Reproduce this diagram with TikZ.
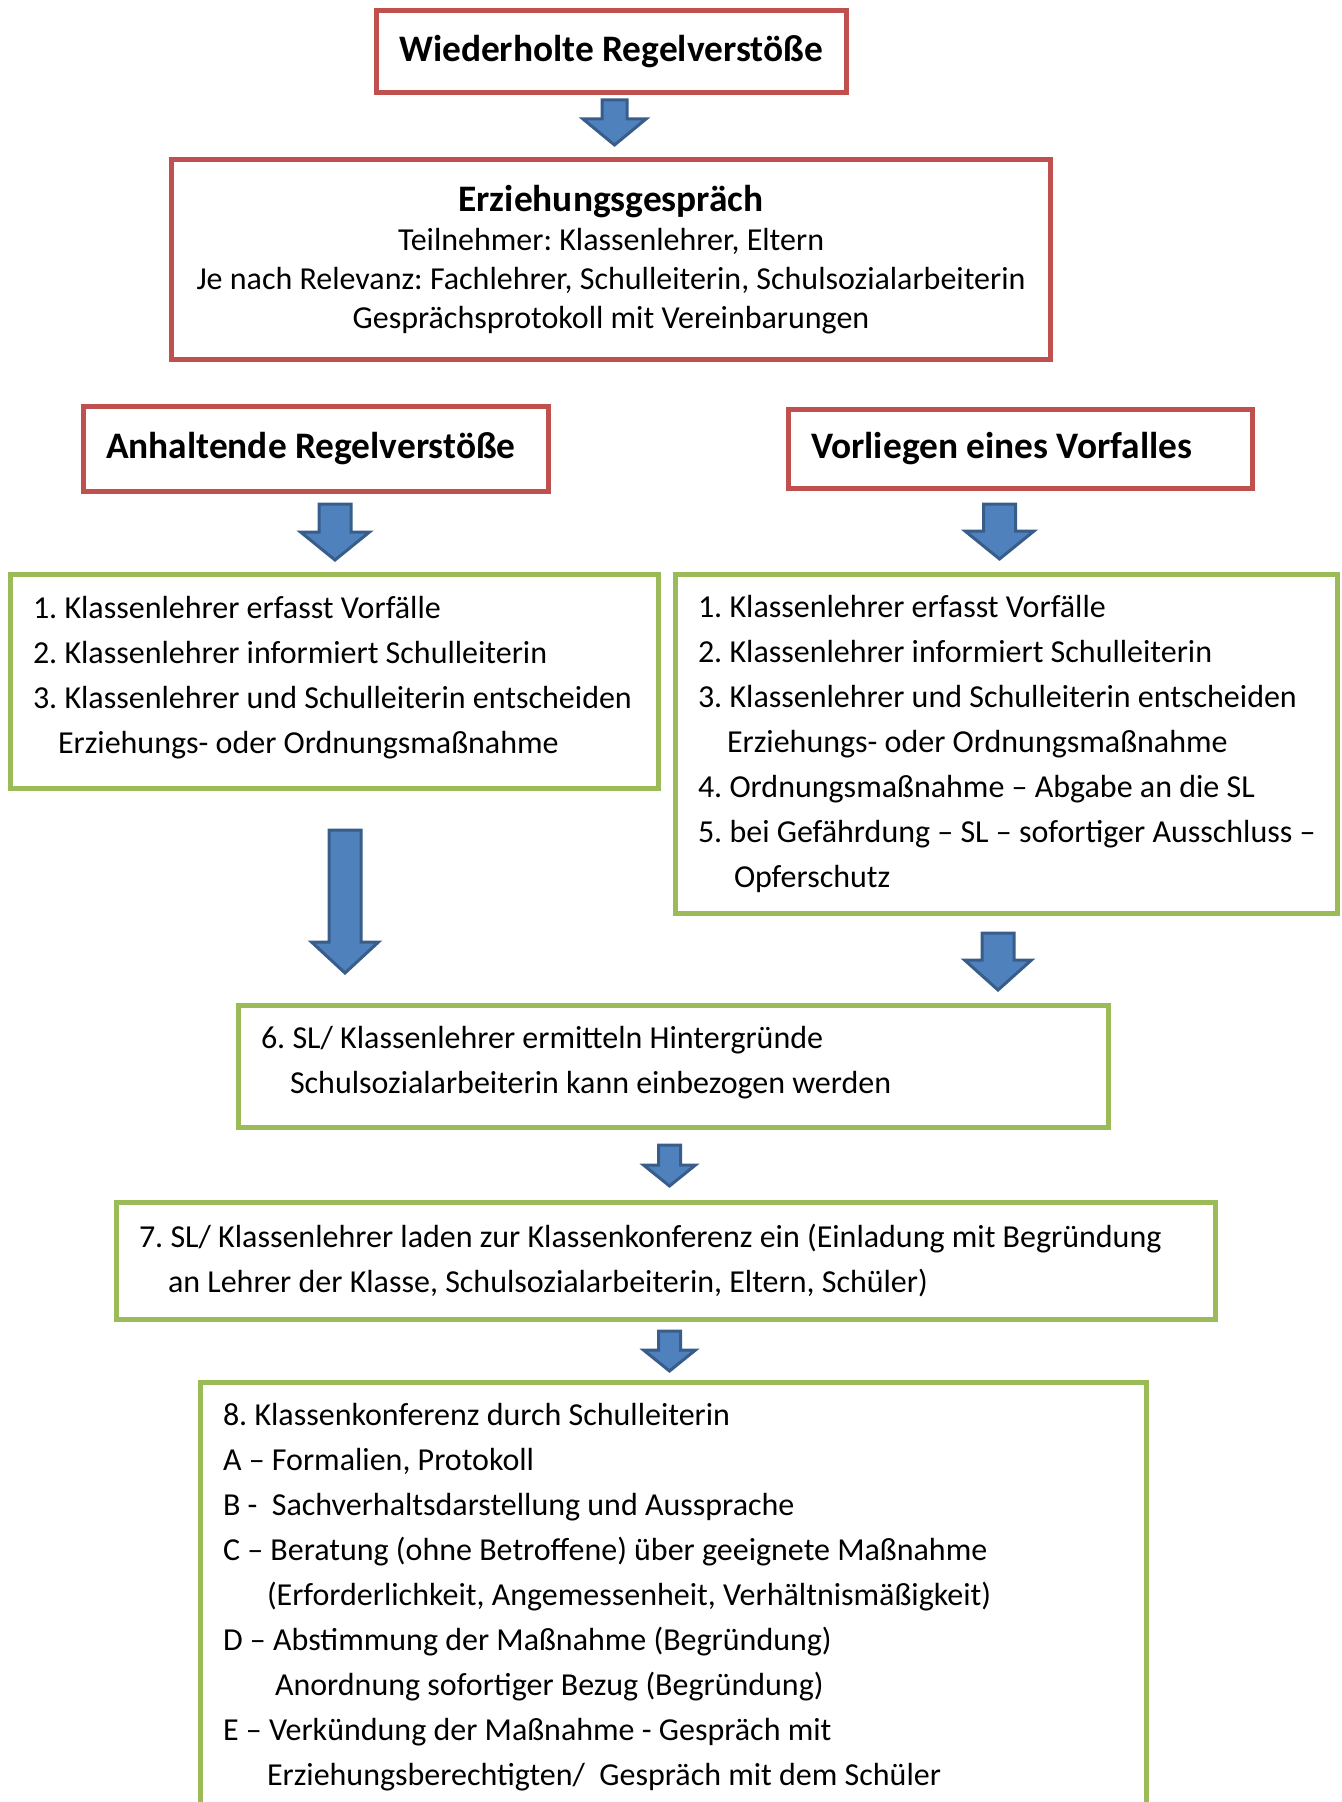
\documentclass[tikz,border=0pt]{standalone}
\usepackage{fontspec}
\setmainfont{Carlito}
\usetikzlibrary{positioning, calc}
\definecolor{boxred}{HTML}{C0504D}
\definecolor{boxgreen}{HTML}{9BBB59}
\definecolor{arrowfill}{HTML}{4F81BD}
\definecolor{arrowline}{HTML}{385D8A}
\newcommand{\bodyfont}{\fontsize{16}{22.5}\selectfont}
\newcommand{\titlefont}{\fontsize{18.7}{22}\selectfont\bfseries}
\newcommand{\lowstrut}{\rule[-6.5pt]{0pt}{0pt}}
\frenchspacing

\begin{document}
\begin{tikzpicture}[
x=0.5pt, y=-0.5pt,
redbox/.style={draw=boxred,
line width=2.5pt,
outer sep=0pt,
align=center,
font=\titlefont},
greenbox/.style={draw=boxgreen,
line width=2.5pt,
outer sep=0pt,
align=flush left,
inner xsep=11.5pt,
font=\bodyfont},
blockarr/.style n args={3}{draw=arrowline, fill=arrowfill, line width=1.5pt,
to path={($(\tikztostart -| \tikztotarget)+(-#1,0)$) -- ($(\tikztostart -| \tikztotarget)+(#1,0)$)
-- ($(\tikztotarget)+(#1,-#3)$) -- ($(\tikztotarget)+(#2,-#3)$) -- (\tikztotarget)
-- ($(\tikztotarget)+(-#2,-#3)$) -- ($(\tikztotarget)+(-#1,-#3)$) -- cycle}}
]
\useasboundingbox (0,0) rectangle (1341,1802);

\node[redbox, minimum width=235pt, minimum height=41pt] (wdh) at (611,52) {Wiederholte Regelverstöße};
\node[redbox, font={\fontsize{16}{19.5}\selectfont}, minimum width=439.5pt, minimum height=100pt, below=33.5pt of wdh] (erz)
{{\titlefont Erziehungsgespräch}\\
Teilnehmer: Klassenlehrer, Eltern\\
Je nach Relevanz: Fachlehrer, Schulleiterin, Schulsozialarbeiterin\\
Gesprächsprotokoll mit Vereinbarungen};

\node[redbox, align=flush left, text width=209.5pt, inner xsep=11.5pt, minimum height=42pt] (anh) at (315.5,449) {Anhaltende Regelverstöße};
\node[redbox, align=flush left, text width=209pt, inner xsep=11.5pt, minimum height=39pt] (vor) at (1020,449) {Vorliegen eines Vorfalles};

\node[greenbox, text width=301pt, minimum height=107pt] (lft) at (334,681)
{1. Klassenlehrer erfasst Vorfälle\\
2. Klassenlehrer informiert Schulleiterin\\
\mbox{3. Klassenlehrer und Schulleiterin entscheiden}\\
\hspace*{12.5pt}Erziehungs- oder Ordnungsmaßnahme\lowstrut};
\node[greenbox, text width=308pt, minimum height=169.5pt] (rgt) at (1006,743.5)
{1. Klassenlehrer erfasst Vorfälle\\
2. Klassenlehrer informiert Schulleiterin\\
\mbox{3. Klassenlehrer und Schulleiterin entscheiden}\\
\hspace*{14.5pt}Erziehungs- oder Ordnungsmaßnahme\\
4. Ordnungsmaßnahme – Abgabe an die SL\\
\mbox{5. bei Gefährdung – SL – sofortiger Ausschluss –}\\
\hspace*{18pt}Opferschutz};

\node[greenbox, text width=412pt, minimum height=61pt] (six) at (673,1066)
{6. SL/ Klassenlehrer ermitteln Hintergründe\\
\hspace*{14.5pt}Schulsozialarbeiterin kann einbezogen werden\lowstrut};
\node[greenbox, text width=526.5pt, minimum height=58.5pt, below=37.5pt of six, xshift=-3.75pt] (sev)
{\mbox{7. SL/ Klassenlehrer laden zur Klassenkonferenz ein (Einladung mit Begründung}\\
\hspace*{14.5pt}an Lehrer der Klasse, Schulsozialarbeiterin, Eltern, Schüler)};
\node[greenbox, text width=450pt, minimum height=215pt, below=31.5pt of sev, xshift=3.75pt] (eig)
{8. Klassenkonferenz durch Schulleiterin\\
A – Formalien, Protokoll\\
B -~ Sachverhaltsdarstellung und Aussprache\\
C – Beratung (ohne Betroffene) über geeignete Maßnahme\\
\hspace*{22pt}(Erforderlichkeit, Angemessenheit, Verhältnismäßigkeit)\\
D – Abstimmung der Maßnahme (Begründung)\\
\hspace*{26pt}Anordnung sofortiger Bezug (Begründung)\\
E – Verkündung der Maßnahme - Gespräch mit\\
\hspace*{22pt}Erziehungsberechtigten/~ Gespräch mit dem Schüler};

\coordinate (a1s) at ($(wdh.south)+(5,7)$);
\coordinate (a1e) at ($(erz.north)+(3.5,-15)$);
\coordinate (a2s) at ($(anh.south)+(19.5,13)$);
\coordinate (a2e) at ($(lft.north)+(1,-14)$);
\coordinate (a3s) at ($(vor.south)+(-20.5,16)$);
\coordinate (a3e) at ($(rgt.north)+(-6.5,-15)$);
\coordinate (a4s) at ($(lft.south)+(11,42)$);
\coordinate (a4e) at ($(six.north west)+(107,-32)$);
\coordinate (a5s) at ($(rgt.south)+(-8,20)$);
\coordinate (a5e) at ($(six.north east)+(-110,-15)$);
\coordinate (a6s) at ($(six.south)+(-3.5,18)$);
\coordinate (a6e) at ($(sev.north)+(4,-16)$);
\coordinate (a7s) at ($(sev.south)+(4,12)$);
\coordinate (a7e) at ($(eig.north)+(-3.5,-11)$);

\draw[blockarr={12.5}{31.5}{26}] (a1s) to (a1e);
\draw[blockarr={16}{34.5}{28}] (a2s) to (a2e);
\draw[blockarr={16}{34.5}{28}] (a3s) to (a3e);
\draw[blockarr={16}{33.5}{31}] (a4s) to (a4e);
\draw[blockarr={16}{33.5}{30}] (a5s) to (a5e);
\draw[blockarr={11}{26}{21}] (a6s) to (a6e);
\draw[blockarr={11}{26}{21}] (a7s) to (a7e);

\end{tikzpicture}
\end{document}
